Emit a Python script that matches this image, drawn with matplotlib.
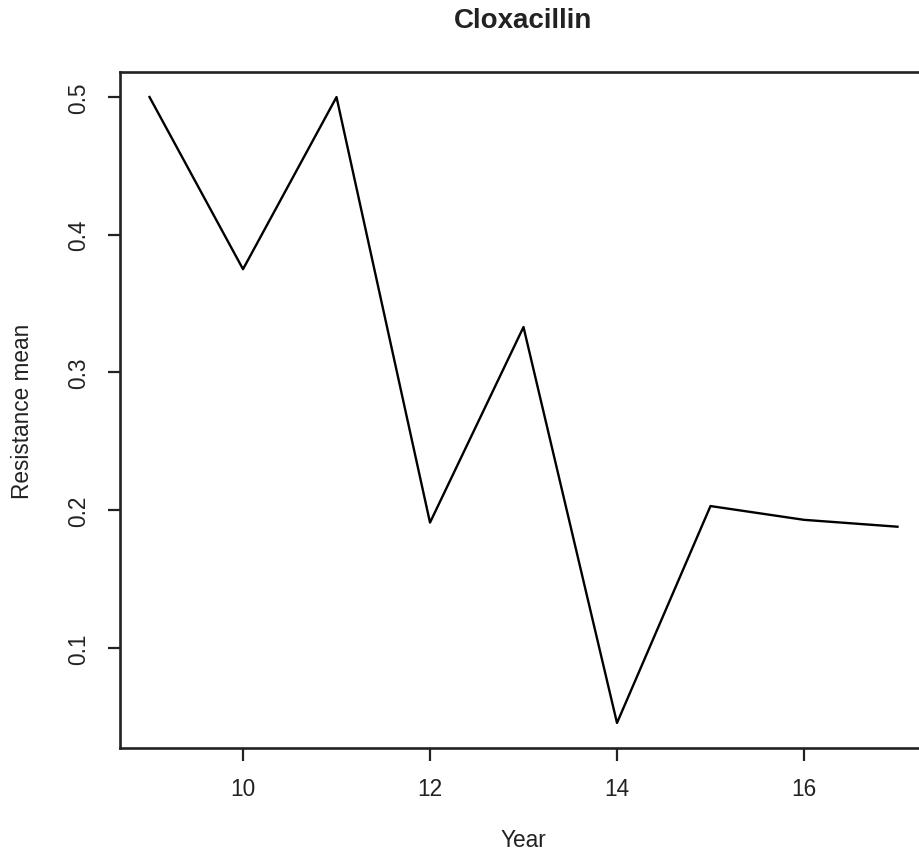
import matplotlib
matplotlib.use("Agg")
import matplotlib.pyplot as plt

# data
year = [9, 10, 11, 12, 13, 14, 15, 16, 17]
resistance = [0.5, 0.375, 0.5, 0.191, 0.333, 0.0455, 0.203, 0.193, 0.188]
xticks = [10, 12, 14, 16]
yticks = [0.1, 0.2, 0.3, 0.4, 0.5]

plt.rcParams['font.family'] = ['Liberation Sans', 'DejaVu Sans']

W, H = 919, 854
fig = plt.figure(figsize=(W / 100, H / 100), dpi=100)
# R-style plot region, right edge falls outside the picture
left, right, top, bottom = 119.6, 927.4, 73, 749
ax = fig.add_axes([left / W, (H - bottom) / H, (right - left) / W, (bottom - top) / H])

ax.plot(year, resistance, color='black', lw=1.7)

# R pads the range by 4 %
xr = max(year) - min(year)
yr = max(resistance) - min(resistance)
ax.set_xlim(min(year) - 0.04 * xr, max(year) + 0.04 * xr)
ax.set_ylim(min(resistance) - 0.04 * yr, max(resistance) + 0.04 * yr)

ax.set_xticks(xticks)
ax.set_xticklabels([str(t) for t in xticks])
ax.set_yticks(yticks)
ax.set_yticklabels([str(t) for t in yticks], rotation=90, va='center')
ax.tick_params(axis='both', length=9, width=1.6, color='#222222', labelsize=16.3,
               labelcolor='#222222')
ax.tick_params(axis='x', pad=12)
ax.tick_params(axis='y', pad=12)

for s in ax.spines.values():
    s.set_linewidth(1.9)
    s.set_color('#222222')

ax.set_xlabel("Year", fontsize=16.3, color='#222222', labelpad=20)
ax.set_ylabel("Resistance mean", fontsize=16.3, color='#222222', labelpad=24)
fig.text((left + right) / 2 / W, 1 - 21 / H, "Cloxacillin", fontsize=20,
         fontweight='bold', ha='center', va='center', color='#222222')

fig.savefig("out.png", dpi=100, facecolor='white')
